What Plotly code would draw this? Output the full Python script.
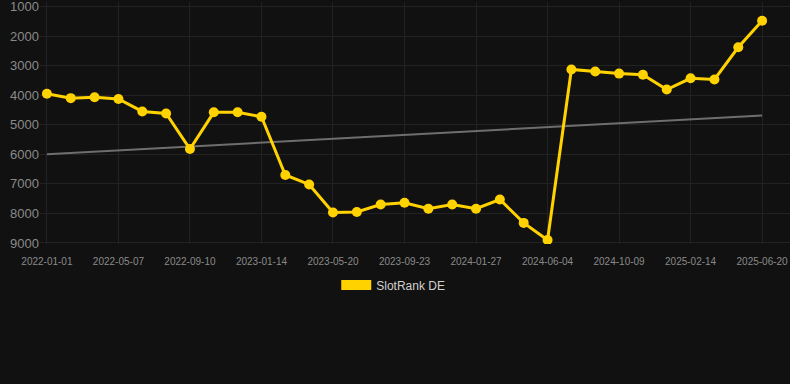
import numpy as np
import plotly.graph_objects as go

dates = [
    "2022-01-01", "2022-02-12", "2022-03-26", "2022-05-07", "2022-06-18", "2022-07-30",
    "2022-09-10", "2022-10-22", "2022-12-03", "2023-01-14", "2023-02-25", "2023-04-08",
    "2023-05-20", "2023-07-01", "2023-08-12", "2023-09-23", "2023-11-04", "2023-12-16",
    "2024-01-27", "2024-03-09", "2024-04-20", "2024-06-04", "2024-07-16", "2024-08-27",
    "2024-10-09", "2024-11-20", "2025-01-01", "2025-02-14", "2025-03-28", "2025-05-09",
    "2025-06-20",
]
rank_de = [
    3950, 4100, 4070, 4130, 4550, 4620, 5820, 4580, 4580, 4730,
    6700, 7020, 7970, 7950, 7700, 7640, 7840, 7700, 7840, 7530,
    8320, 8900, 3130, 3200, 3270, 3310, 3810, 3430, 3470, 2380,
    1480,
]
tick_labels = dates[::3]
y_ticks = [1000, 2000, 3000, 4000, 5000, 6000, 7000, 8000, 9000]
series_name = "SlotRank DE"

# linear trend of the series
idx = np.arange(len(rank_de))
slope, intercept = np.polyfit(idx, rank_de, 1)
trend = [slope * i + intercept for i in idx]

GOLD = "#FFD200"
BG = "#111111"

fig = go.Figure()
fig.add_trace(go.Scatter(
    x=dates, y=trend, mode="lines",
    line=dict(color="#6e6e6e", width=2),
    showlegend=False, hoverinfo="skip",
))
fig.add_trace(go.Scatter(
    x=dates, y=rank_de, mode="lines+markers",
    line=dict(color=GOLD, width=3),
    marker=dict(color=GOLD, size=10),
    name=series_name, showlegend=False,
))
# legend swatch
fig.add_trace(go.Scatter(
    x=[None], y=[None], mode="lines",
    line=dict(color=GOLD, width=12),
    name=series_name, showlegend=True,
))

fig.update_layout(
    width=790, height=384,
    paper_bgcolor=BG, plot_bgcolor=BG,
    margin=dict(l=40, r=0, t=2, b=140),
    font=dict(family="Liberation Sans, Arial, sans-serif", color="#8a8a8a"),
    showlegend=True,
    legend=dict(
        orientation="h", x=0.395, xanchor="left", y=-0.11, yanchor="top",
        font=dict(size=12, color="#d0d0d0"), bgcolor="rgba(0,0,0,0)",
    ),
    xaxis=dict(
        type="category", categoryorder="array", categoryarray=dates,
        tickmode="array", tickvals=tick_labels, ticktext=tick_labels,
        range=[-0.29, 31.17],
        showgrid=True, gridcolor="#222222", gridwidth=1,
        zeroline=False, showline=False,
        tickfont=dict(size=10, color="#8a8a8a"),
        ticks="outside", ticklen=8, tickcolor=BG,
    ),
    yaxis=dict(
        range=[9034, 848], tickmode="array", tickvals=y_ticks,
        showgrid=True, gridcolor="#222222", gridwidth=1,
        zeroline=False, showline=False,
        tickfont=dict(size=13, color="#8a8a8a"),
        ticks="", ticklabeloverflow="allow",
    ),
)

fig.write_html(
    "out.html",
    config={"displayModeBar": False},
    post_script="document.body.style.margin='0';document.body.style.background='#111111';",
)
